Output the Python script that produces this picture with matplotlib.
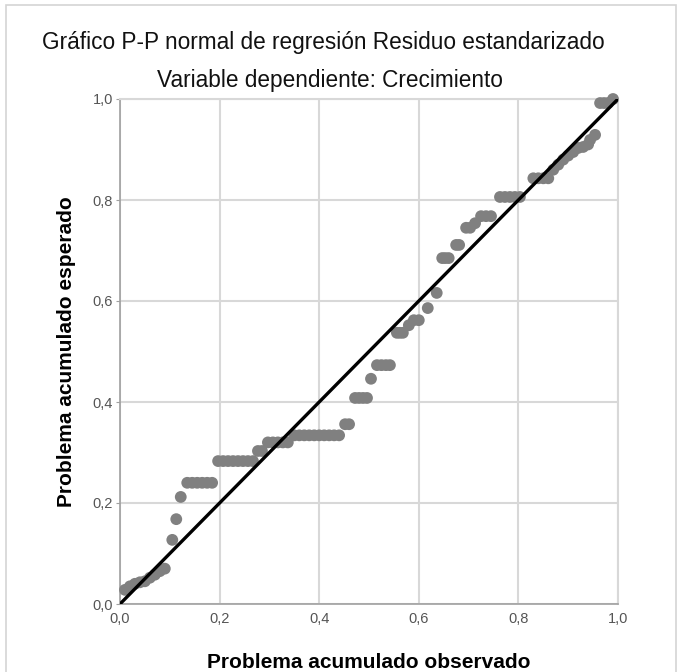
import matplotlib
matplotlib.use("Agg")
import matplotlib.pyplot as plt
from matplotlib.patches import Rectangle

plt.rcParams['font.family'] = ['Liberation Sans', 'DejaVu Sans']

# Observed cumulative probability (x) and expected cumulative probability (y)
observed = [0.010, 0.020, 0.030, 0.040, 0.050, 0.060, 0.070, 0.080, 0.090,
            0.105, 0.113, 0.122,
            0.135, 0.145, 0.155, 0.165, 0.175, 0.185,
            0.197, 0.207, 0.217, 0.227, 0.237, 0.247, 0.257, 0.267,
            0.277, 0.285,
            0.297, 0.307, 0.317, 0.327, 0.337,
            0.350, 0.360, 0.370, 0.380, 0.390, 0.400, 0.410, 0.420, 0.430, 0.440,
            0.452, 0.460,
            0.472, 0.480, 0.488, 0.496,
            0.504,
            0.516, 0.525, 0.534, 0.542,
            0.556, 0.562, 0.568,
            0.580, 0.590, 0.600, 0.618, 0.636,
            0.647, 0.653, 0.660,
            0.675, 0.681,
            0.695, 0.703, 0.713, 0.725, 0.735, 0.745,
            0.763, 0.773, 0.783, 0.793, 0.803,
            0.830, 0.840, 0.850, 0.860,
            0.870, 0.880, 0.890, 0.900, 0.910, 0.920, 0.930, 0.940, 0.944, 0.954,
            0.964, 0.972, 0.980, 0.990]
expected = [0.028, 0.035, 0.040, 0.043, 0.045, 0.052, 0.058, 0.065, 0.070,
            0.127, 0.168, 0.212,
            0.240, 0.240, 0.240, 0.240, 0.240, 0.240,
            0.283, 0.283, 0.283, 0.283, 0.283, 0.283, 0.283, 0.283,
            0.303, 0.303,
            0.320, 0.320, 0.320, 0.320, 0.320,
            0.334, 0.334, 0.334, 0.334, 0.334, 0.334, 0.334, 0.334, 0.334, 0.334,
            0.356, 0.356,
            0.408, 0.408, 0.408, 0.408,
            0.446,
            0.473, 0.473, 0.473, 0.473,
            0.537, 0.537, 0.537,
            0.552, 0.562, 0.562, 0.586, 0.616,
            0.685, 0.685, 0.685,
            0.711, 0.711,
            0.745, 0.745, 0.754, 0.768, 0.768, 0.768,
            0.806, 0.806, 0.806, 0.806, 0.806,
            0.843, 0.843, 0.843, 0.843,
            0.860, 0.870, 0.880, 0.888, 0.895, 0.903, 0.905, 0.910, 0.919, 0.929,
            0.992, 0.992, 0.992, 1.000]

ticks = [0.0, 0.2, 0.4, 0.6, 0.8, 1.0]
tick_labels = ['0,0', '0,2', '0,4', '0,6', '0,8', '1,0']

fig = plt.figure(figsize=(6.81, 6.72), dpi=100)
fig.patches.append(Rectangle((6/681, -0.05), (676-6)/681, 1.05 - 5/672,
                             transform=fig.transFigure, fill=False,
                             edgecolor='#d4d4d4', linewidth=1.2))

ax = fig.add_axes([120/681, 1-604/672, (618-120)/681, (604-99)/672])
ax.set_xlim(0, 1)
ax.set_ylim(0, 1)
ax.set_xticks(ticks)
ax.set_yticks(ticks)
ax.set_xticklabels(tick_labels)
ax.set_yticklabels(tick_labels)
ax.grid(True, color='#d8d8d8', linewidth=1.5)
ax.set_axisbelow(True)
for side in ['top', 'right']:
    ax.spines[side].set_color('#d8d8d8')
    ax.spines[side].set_linewidth(1.5)
for side in ['left', 'bottom']:
    ax.spines[side].set_color('#a0a0a0')
    ax.spines[side].set_linewidth(1.2)
ax.tick_params(axis='x', length=0, pad=6, labelsize=10.5, labelcolor='#555555')
ax.tick_params(axis='y', length=3, color='#a0a0a0', pad=2, labelsize=10.5, labelcolor='#555555')

ax.scatter(observed, expected, s=72, color='#808080', edgecolors='none', zorder=3, clip_on=False)
ax.plot([0, 1], [0, 1], color='black', linewidth=2.4, zorder=4)

ax.set_xlabel('Problema acumulado observado', fontsize=15, fontweight='bold', labelpad=19)
ax.set_ylabel('Problema acumulado esperado', fontsize=15, fontweight='bold', labelpad=12)

fig.text(323/681, 1-42/672, 'Gráfico P-P normal de regresión Residuo estandarizado',
         ha='center', va='center', fontsize=16.3, color='#111111')
fig.text(330/681, 1-80/672, 'Variable dependiente: Crecimiento',
         ha='center', va='center', fontsize=16.3, color='#111111')

fig.savefig('out.png', dpi=100, facecolor='white')
